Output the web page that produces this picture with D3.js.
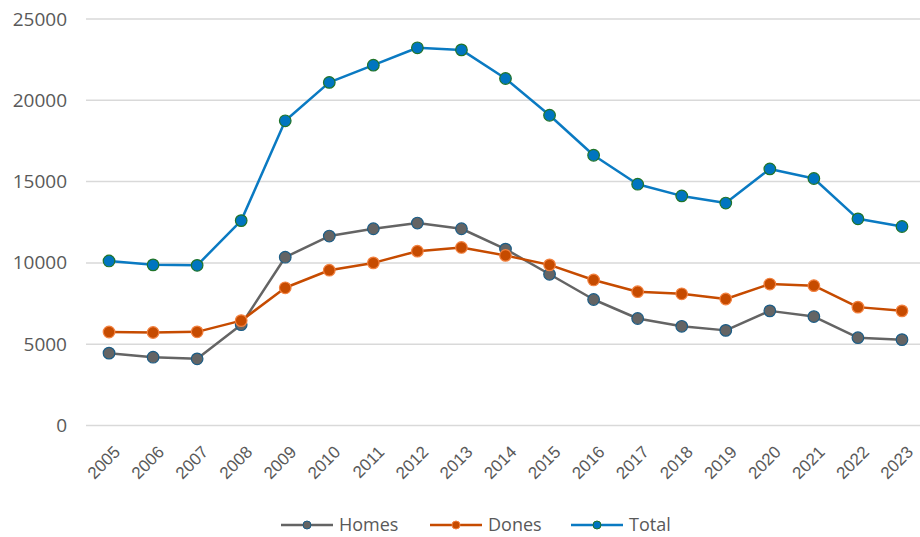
<!DOCTYPE html>
<html>
<head>
<meta charset="utf-8">
<script src="https://cdn.jsdelivr.net/npm/d3@7"></script>
<style>
  body { margin: 0; background: #fff; }
  svg { display: block; font-family: "Open Sans", sans-serif; }
</style>
</head>
<body>
<svg id="chart" width="920" height="537"></svg>
<script>
/* Data */
const years = [2005, 2006, 2007, 2008, 2009, 2010, 2011, 2012, 2013, 2014,
               2015, 2016, 2017, 2018, 2019, 2020, 2021, 2022, 2023];
const homes = [4450, 4200, 4100, 6200, 10350, 11650, 12100, 12450, 12100, 10850,
               9300, 7750, 6580, 6100, 5850, 7050, 6700, 5400, 5280];
const dones = [5750, 5720, 5760, 6450, 8470, 9550, 10000, 10720, 10950, 10460,
               9880, 8950, 8230, 8100, 7780, 8700, 8600, 7280, 7050];
const total = [10120, 9880, 9850, 12600, 18740, 21100, 22160, 23230, 23100, 21340,
               19080, 16620, 14840, 14120, 13680, 15780, 15190, 12710, 12240];
const yTicks = [0, 5000, 10000, 15000, 20000, 25000];

const series = [
  { name: 'Homes', values: homes, line: '#646464', fill: '#646464', stroke: '#1c5d86' },
  { name: 'Dones', values: dones, line: '#c64b00', fill: '#c64b00', stroke: '#f2813f' },
  { name: 'Total', values: total, line: '#0a7ac2', fill: '#0075c0', stroke: '#20742a' }
];

const svg = d3.select('#chart');
const plotLeft = 87, plotRight = 924, plotTop = 19, plotBottom = 425.5;

/* Scales */
const x = d3.scalePoint()
  .domain(years)
  .range([plotLeft, plotRight])
  .padding(0.5);

const y = d3.scaleLinear()
  .domain([0, 25000])
  .range([plotBottom, plotTop]);

/* Gridlines */
svg.append('g')
  .selectAll('line')
  .data(yTicks)
  .join('line')
  .attr('x1', plotLeft - 1)
  .attr('x2', 920)
  .attr('y1', d => y(d))
  .attr('y2', d => y(d))
  .attr('stroke', '#d9d9d9')
  .attr('stroke-width', 1.5);

/* Y axis */
const yAxis = svg.append('g')
  .attr('transform', `translate(${plotLeft - 20},0)`)
  .call(d3.axisLeft(y).tickValues(yTicks).tickSize(0).tickPadding(0).tickFormat(d3.format('d')));
yAxis.select('.domain').remove();
yAxis.selectAll('text')
  .attr('fill', '#595959')
  .style('font-size', '19px')
  .style('font-family', '"Open Sans", sans-serif');

/* X axis */
const xAxis = svg.append('g')
  .attr('transform', `translate(0,${plotBottom + 19})`)
  .call(d3.axisBottom(x).tickSize(0).tickPadding(0).tickFormat(d3.format('d')));
xAxis.select('.domain').remove();
xAxis.selectAll('text')
  .attr('fill', '#595959')
  .style('font-size', '17px')
  .style('font-family', '"Liberation Sans", Arial, sans-serif')
  .attr('text-anchor', 'end')
  .attr('y', 0)
  .attr('dy', '0.72em')
  .attr('transform', 'translate(3,0) rotate(-45)');

/* Lines and markers */
const line = d3.line()
  .x((d, i) => x(years[i]))
  .y(d => y(d));

series.forEach(s => {
  svg.append('path')
    .datum(s.values)
    .attr('fill', 'none')
    .attr('stroke', s.line)
    .attr('stroke-width', 2.5)
    .attr('stroke-linejoin', 'round')
    .attr('d', line);
});

series.forEach(s => {
  svg.append('g')
    .selectAll('circle')
    .data(s.values)
    .join('circle')
    .attr('cx', (d, i) => x(years[i]))
    .attr('cy', d => y(d))
    .attr('r', 5.8)
    .attr('fill', s.fill)
    .attr('stroke', s.stroke)
    .attr('stroke-width', 1.2);
});

/* Legend */
const legendX = [281, 430, 571];
const legend = svg.append('g')
  .selectAll('g')
  .data(series)
  .join('g')
  .attr('transform', (d, i) => `translate(${legendX[i]},525)`);
legend.append('line')
  .attr('x1', 0).attr('x2', 52)
  .attr('stroke', d => d.line)
  .attr('stroke-width', 2.5);
legend.append('circle')
  .attr('cx', 26).attr('r', 4)
  .attr('fill', d => d.fill)
  .attr('stroke', d => d.stroke)
  .attr('stroke-width', 1);
legend.append('text')
  .attr('x', 58)
  .attr('dy', '0.35em')
  .attr('fill', '#595959')
  .style('font-size', '18px')
  .text(d => d.name);
</script>
</body>
</html>
